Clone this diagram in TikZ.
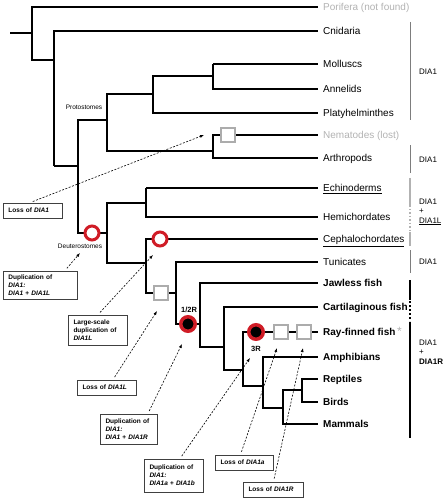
\documentclass[tikz,border=0pt]{standalone}
\usepackage{fontspec}
\setmainfont{Liberation Sans}
\usetikzlibrary{arrows.meta}
\definecolor{dupred}{RGB}{208,28,38}
\definecolor{lossgray}{RGB}{172,172,172}
\definecolor{faint}{RGB}{178,178,178}
\definecolor{bargray}{RGB}{125,125,125}

\tikzset{
	br/.style={line width=2.7pt},
	thinbr/.style={line width=1.2pt},
	taxon/.style={anchor=west, inner xsep=5pt, inner ysep=0pt, text height=7.5pt, text depth=0.5pt, font=\fontsize{10}{12}\selectfont},
	vert/.style={taxon, font=\fontsize{10}{12}\selectfont\bfseries},
	clade/.style={inner sep=0pt, font=\fontsize{6.5}{8}\selectfont},
	round/.style={inner sep=0pt, font=\fontsize{7.5}{9}\selectfont\bfseries},
	dupl/.style={circle, draw=dupred, line width=3pt, fill=white, minimum size=14pt, inner sep=0pt},
	wgd/.style={circle, draw=dupred, line width=3.5pt, fill=black, minimum size=14.5pt, inner sep=0pt},
	loss/.style={rectangle, draw=lossgray, line width=2.2pt, fill=white, minimum size=14pt, inner sep=0pt},
	event/.style={draw=black!75, line width=0.8pt, fill=white, align=left, inner xsep=5pt, inner ysep=2pt, font=\fontsize{6.5}{8}\selectfont\bfseries},
	pointer/.style={line width=0.6pt, dash pattern=on 2pt off 1.5pt, shorten <=3pt, -{Latex[length=4pt,width=3pt]}},
	gene/.style={anchor=west, inner sep=0pt, align=left, font=\fontsize{8}{9.5}\selectfont},
	lightbar/.style={draw=faint, line width=1.5pt},
	darkbar/.style={draw=bargray, line width=1pt}
}

\begin{document}
\begin{tikzpicture}[x=1pt,y=-1pt]
\useasboundingbox (0,0) rectangle (447,500);

% taxa
\node[taxon, text=faint] (por) at (318,7) {Porifera (not found)};
\node[taxon] (cni) at (318,31) {Cnidaria};
\node[taxon] (mlc) at (318,64) {Molluscs};
\node[taxon] (ann) at (318,89) {Annelids};
\node[taxon] (pla) at (318,113) {Platyhelminthes};
\node[taxon, text=faint] (nem) at (318,135) {Nematodes (lost)};
\node[taxon] (art) at (318,158) {Arthropods};
\node[taxon] (ech) at (318,188) {\underline{Echinoderms}};
\node[taxon] (hem) at (318,217) {Hemichordates};
\node[taxon] (cep) at (318,239) {\underline{Cephalochordates}};
\node[taxon] (tun) at (318,262) {Tunicates};
\node[vert] (jaw) at (318,283) {Jawless fish};
\node[vert] (car) at (318,307) {Cartilaginous fish};
\node[vert] (ray) at (318,332) {Ray-finned fish\,{\fontsize{12}{12}\selectfont\mdseries\textcolor{faint}{*}}};
\node[vert] (amp) at (318,357) {Amphibians};
\node[vert] (rep) at (318,379) {Reptiles};
\node[vert] (bir) at (318,402) {Birds};
\node[vert] (mam) at (318,424) {Mammals};

% branch points
\coordinate (root) at (10,33);
\coordinate (met) at (32,33);
\coordinate (eum) at (54,60);
\coordinate (bil) at (78,166);
\coordinate (pro) at (107,120);
\coordinate (lop) at (153,94);
\coordinate (mol) at (213,76);
\coordinate (ecd) at (213,151);
\coordinate (deu) at (107,233);
\coordinate (amb) at (146,203);
\coordinate (cho) at (146,263);
\coordinate (olf) at (176,293);
\coordinate (ver) at (200,324);
\coordinate (gna) at (224,347);
\coordinate (ost) at (243,370);
\coordinate (tet) at (263,386);
\coordinate (amn) at (283,408);
\coordinate (sau) at (302,390);

\draw[br] (root) -- (met);
\draw[br] (met) |- (por.west);
\draw[br] (met) |- (eum);
\draw[thinbr] (eum) |- (cni.west);
\draw[thinbr] (eum) -- (eum |- bil);
\draw[br] (eum |- bil) -- (bil);
\draw[br] (bil) |- (pro);
\draw[br] (bil) |- (deu);
\draw[br] (pro) |- (lop);
\draw[br] (pro) |- (ecd);
\draw[br] (lop) |- (mol);
\draw[br] (lop) |- (pla.west);
\draw[thinbr] (mol) |- (ann.west);
\draw[thinbr] (mol) -- (mol |- mlc.west);
\draw[br] (mol |- mlc.west) -- (mlc.west);
\draw[br] (ecd) |- (nem.west);
\draw[br] (ecd) |- (art.west);
\draw[br] (deu) |- (amb);
\draw[br] (deu) |- (cho);
\draw[br] (amb) -- (amb |- ech.west);
\draw[thinbr] (amb |- ech.west) -- (ech.west);
\draw[br] (amb) |- (hem.west);
\draw[br] (cho) |- (cep.west);
\draw[br] (cho) |- (olf);
\draw[thinbr] (olf) |- (tun.west);
\draw[br] (olf) |- (ver);
\draw[br] (ver) |- (jaw.west);
\draw[br] (ver) |- (gna);
\draw[br] (gna) |- (car.west);
\draw[br] (gna) |- (ost);
\draw[br] (ost) |- (ray.west);
\draw[br] (ost) |- (tet);
\draw[br] (tet) |- (amp.west);
\draw[br] (tet) |- (amn);
\draw[br] (amn) |- (sau);
\draw[br] (amn) |- (mam.west);
\draw[br] (sau) |- (rep.west);
\draw[br] (sau) |- (bir.west);

\node[clade] (protolbl) at (84,107) {Protostomes};
\node[clade] (deutlbl) at (80,246) {Deuterostomes};

% gene events on the tree
\node[dupl] (dupdeu) at (92,233) {};
\node[dupl] (dupcep) at (160,239) {};
\node[loss] (lossnem) at (228,135) {};
\node[loss] (losscep) at (161,293) {};
\node[wgd] (wgd12) at (188,324) {};
\node[wgd] (wgd3) at (256,332) {};
\node[loss] (lossa) at (281,332) {};
\node[loss] (lossr) at (304,332) {};
\node[round] (lbl12) at (189,310) {1/2R};
\node[round] (lbl3) at (256,349) {3R};

% explanation boxes
\node[event, text width=49pt, minimum height=15pt] (evA) at (33,210.5) {Loss of \textit{DIA1}};
\node[event, text width=64pt, minimum height=28pt] (evB) at (40.5,285) {Duplication of\\\textit{DIA1:}\\\textit{DIA1} + \textit{DIA1L}};
\node[event, text width=49pt, minimum height=30pt] (evC) at (98,330) {Large-scale\\duplication of\\\textit{DIA1L}};
\node[event, text width=49pt, minimum height=15pt] (evD) at (107,387.5) {Loss of \textit{DIA1L}};
\node[event, text width=47pt, minimum height=30pt] (evE) at (129,429) {Duplication of\\\textit{DIA1:}\\\textit{DIA1} + \textit{DIA1R}};
\node[event, text width=49pt, minimum height=33pt] (evF) at (174,475.5) {Duplication of\\\textit{DIA1:}\\\textit{DIA1a} + \textit{DIA1b}};
\node[event, text width=48pt, minimum height=15pt] (evG) at (244.5,462.5) {Loss of \textit{DIA1a}};
\node[event, text width=50pt, minimum height=15pt] (evH) at (273.5,489.5) {Loss of \textit{DIA1R}};

\coordinate (tA) at (204,135);
\coordinate (tB) at (80,253);
\coordinate (tC) at (153,255);
\coordinate (tD) at (157,311);
\coordinate (tE) at (182,344);
\coordinate (tF) at (250,358);
\coordinate (tG) at (277,348);
\coordinate (tH) at (303,348);

\draw[pointer] ([xshift=-3pt]evA.north) -- (tA);
\draw[pointer] ([xshift=-13pt]evB.north east) -- (tB);
\draw[pointer] (evC.north) -- (tC);
\draw[pointer] ([xshift=6pt]evD.north) -- (tD);
\draw[pointer] ([xshift=-10pt]evE.north east) -- (tE);
\draw[pointer] ([xshift=6pt]evF.north) -- (tF);
\draw[pointer] ([xshift=-4pt]evG.north) -- (tG);
\draw[pointer] (evH.north) -- (tH);

% gene content bars
\draw[darkbar] (410,22) -- (410,120);
\draw[darkbar] (410,145) -- (410,173);
\draw[lightbar] (410,178) -- (410,205);
\draw[lightbar, dotted] (410,205) -- (410,231);
\draw[lightbar] (410,232) -- (410,246);
\draw[darkbar] (410,250) -- (410,273);
\draw[line width=2pt] (410,280) -- (410,300);
\draw[line width=2pt, dotted] (410,301) -- (410,321);
\draw[line width=2pt] (410,322) -- (410,438);

\node[gene] (g1) at (419,72) {DIA1};
\node[gene] (g2) at (419,160) {DIA1};
\node[gene] (g3) at (419,212) {DIA1\\+\\\underline{DIA1L}};
\node[gene] (g4) at (419,262) {DIA1};
\node[gene] (g5) at (419,352) {DIA1\\+\\\textbf{DIA1R}};
\end{tikzpicture}
\end{document}
